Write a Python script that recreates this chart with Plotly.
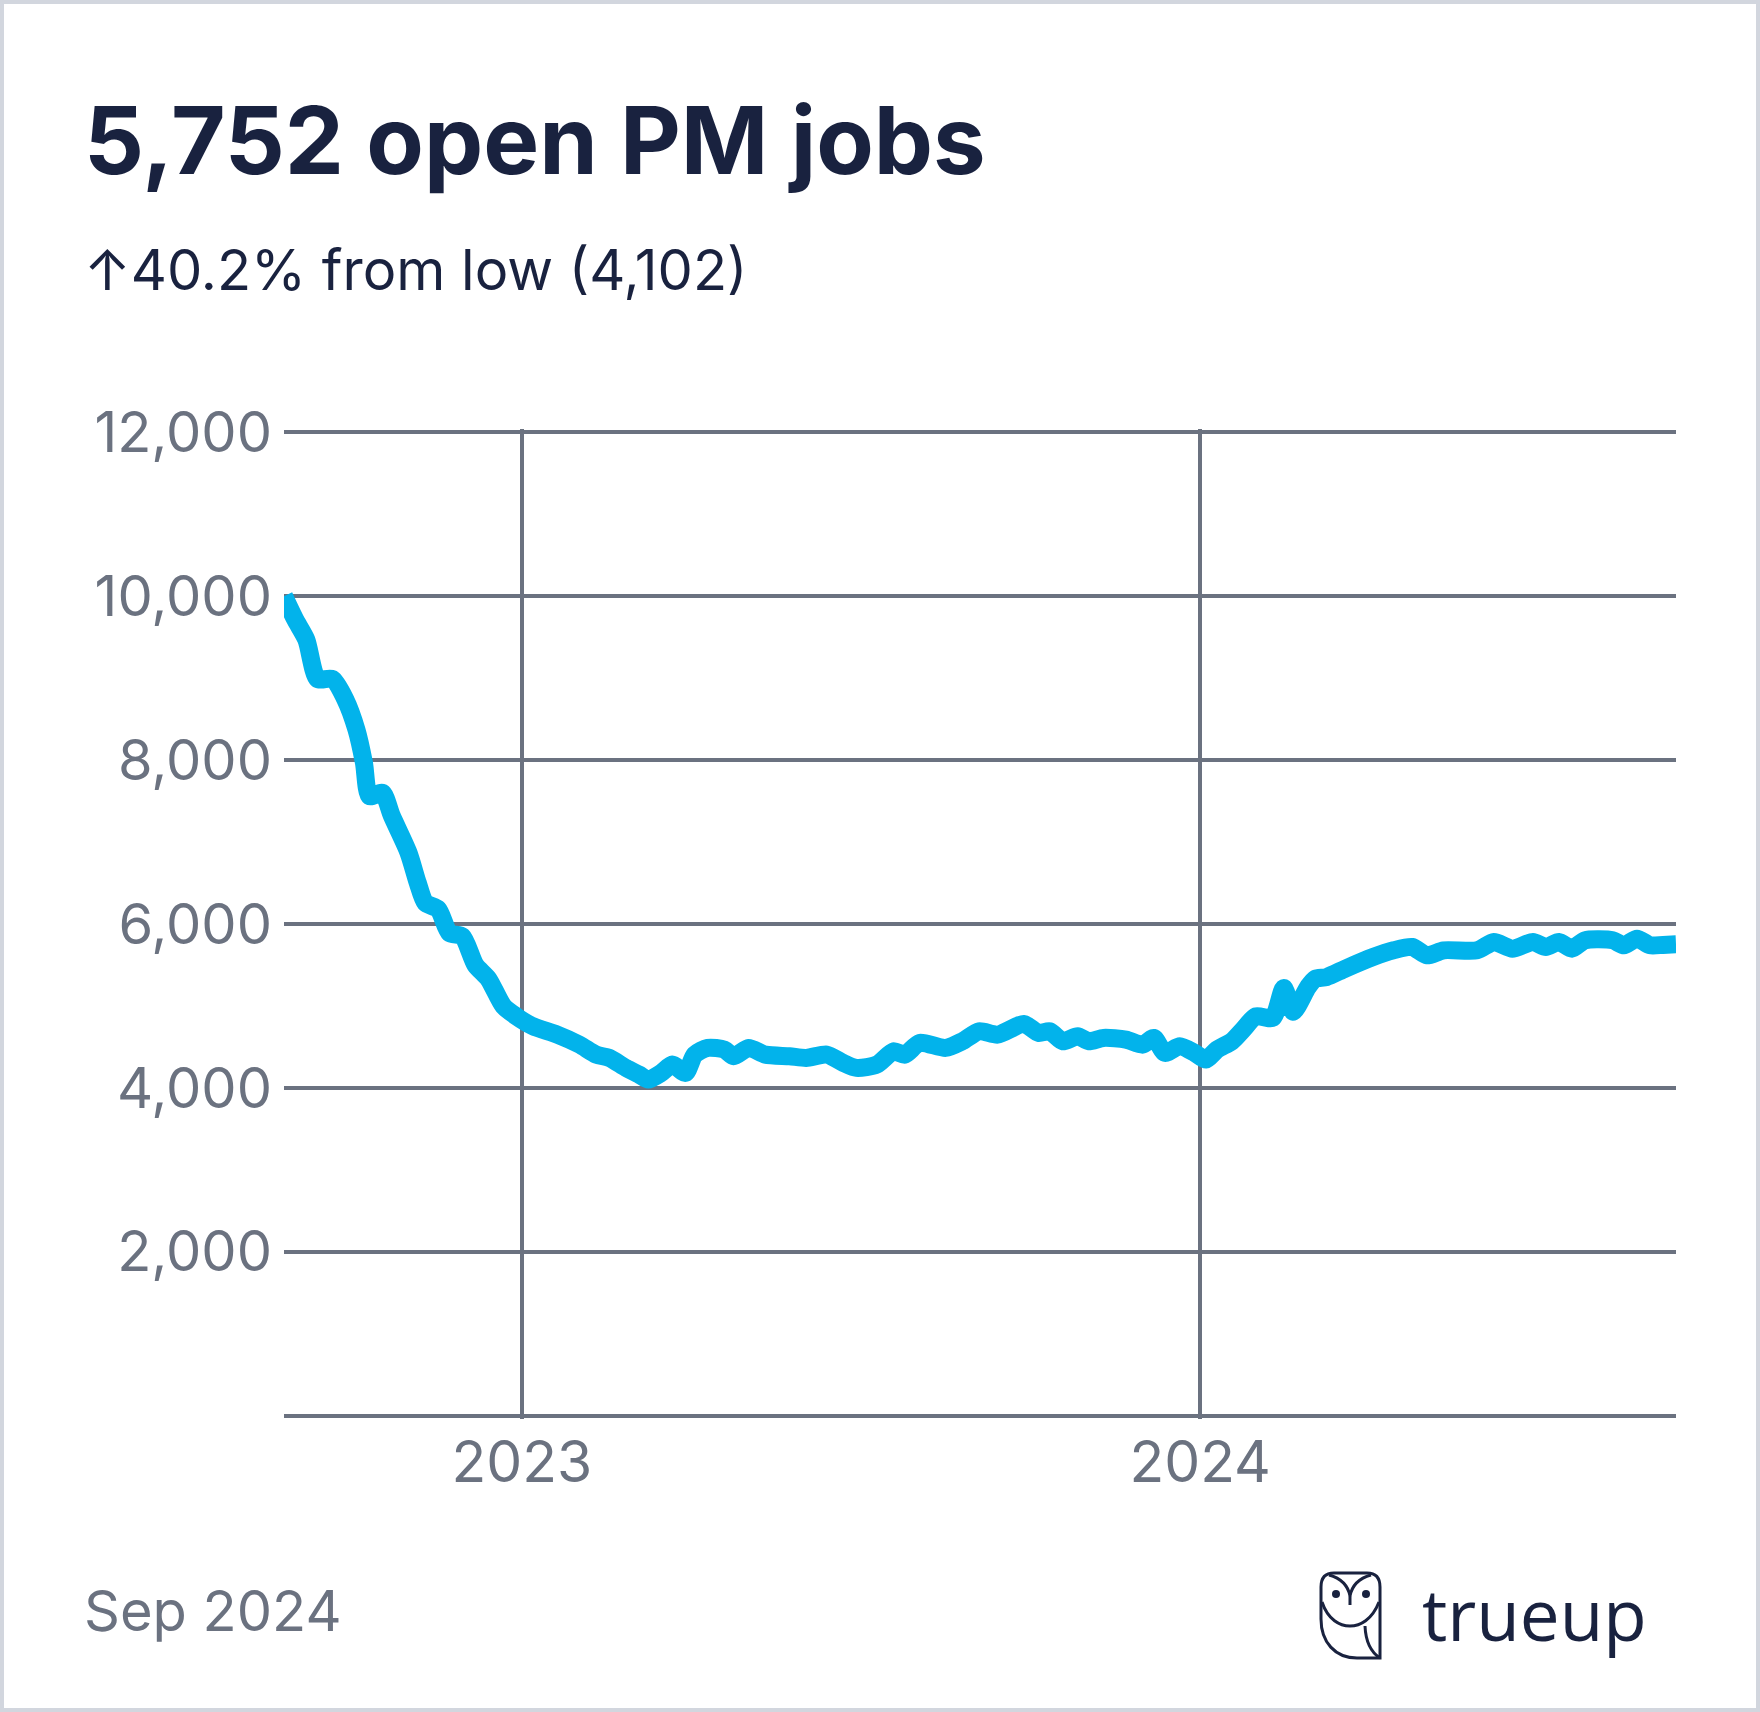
import plotly.graph_objects as go

# ---------------- data ----------------
dates = [
    "2022-08-26", "2022-09-01", "2022-09-07", "2022-09-13", "2022-09-21", "2022-09-28",
    "2022-10-04", "2022-10-08", "2022-10-11", "2022-10-18", "2022-10-23", "2022-11-01",
    "2022-11-06", "2022-11-10", "2022-11-17", "2022-11-23", "2022-11-30", "2022-12-07",
    "2022-12-14", "2022-12-22", "2022-12-29", "2023-01-07", "2023-01-20", "2023-02-01",
    "2023-02-10", "2023-02-17", "2023-02-26", "2023-03-05", "2023-03-10", "2023-03-17",
    "2023-03-23", "2023-03-30", "2023-04-04", "2023-04-11", "2023-04-20", "2023-04-25",
    "2023-05-03", "2023-05-12", "2023-05-25", "2023-06-03", "2023-06-14", "2023-06-23",
    "2023-06-30", "2023-07-11", "2023-07-20", "2023-07-26", "2023-08-03", "2023-08-17",
    "2023-08-26", "2023-09-04", "2023-09-14", "2023-09-28", "2023-10-06", "2023-10-12",
    "2023-10-19", "2023-10-27", "2023-11-02", "2023-11-10", "2023-11-22", "2023-12-01",
    "2023-12-07", "2023-12-13", "2023-12-21", "2023-12-29", "2024-01-04", "2024-01-10",
    "2024-01-18", "2024-01-24", "2024-01-31", "2024-02-09", "2024-02-15", "2024-02-20",
    "2024-02-28", "2024-03-03", "2024-03-09", "2024-03-19", "2024-04-03", "2024-04-14",
    "2024-04-24", "2024-05-02", "2024-05-11", "2024-05-29", "2024-06-07", "2024-06-17",
    "2024-06-28", "2024-07-05", "2024-07-12", "2024-07-19", "2024-07-26", "2024-08-10",
    "2024-08-16", "2024-08-23", "2024-08-30", "2024-09-06", "2024-09-13",
]
open_jobs = [
    10000, 9716, 9470, 8990, 8990, 8740,
    8370, 7970, 7560, 7600, 7320, 6870,
    6500, 6260, 6180, 5890, 5850, 5500,
    5330, 5000, 4874, 4752, 4650, 4528,
    4406, 4366, 4244, 4163, 4102, 4183,
    4285, 4183, 4406, 4488, 4467, 4386,
    4488, 4406, 4386, 4366, 4406, 4304,
    4244, 4285, 4447, 4406, 4549, 4488,
    4569, 4691, 4650, 4780, 4671, 4691,
    4569, 4630, 4569, 4610, 4589, 4528,
    4610, 4427, 4508, 4427, 4346, 4467,
    4569, 4711, 4874, 4854, 5219, 4930,
    5231, 5333, 5353, 5455, 5597, 5679,
    5720, 5618, 5679, 5679, 5780, 5699,
    5780, 5720, 5780, 5699, 5801, 5801,
    5740, 5821, 5740, 5745, 5752,
]
y_tick_values = [0, 2000, 4000, 6000, 8000, 10000, 12000]
y_tick_labels = ["", "2,000", "4,000", "6,000", "8,000", "10,000", "12,000"]
x_tick_values = ["2023-01-01", "2024-01-01"]
x_tick_labels = ["2023", "2024"]

title_text = "5,752 open PM jobs"
subtitle_text = "↑40.2% from low (4,102)"
date_text = "Sep 2024"
brand_text = "trueup"

# ---------------- layout constants ----------------
W, H = 1760, 1712
L, R, T, B = 284, 84, 429, 293
PW, PH = W - L - R, H - T - B

NAVY = "#19223f"
GRAY = "#6b7280"
BLUE = "#02b3eb"
BORDER = "#d2d6de"


def px_x(x):
    return (x - L) / PW


def px_y(y):
    return (H - B - y) / PH


fig = go.Figure()
fig.add_trace(go.Scatter(
    x=dates, y=open_jobs, mode="lines",
    line=dict(color=BLUE, width=18, shape="spline", smoothing=0.7),
    hoverinfo="skip", showlegend=False,
))

annotations = [
    dict(text=title_text, x=px_x(82), y=px_y(140), xanchor="left", yanchor="middle",
         font=dict(family="Inter", size=94, color=NAVY, weight=700)),
    dict(text=subtitle_text, x=px_x(82), y=px_y(270), xanchor="left", yanchor="middle",
         font=dict(family="Inter", size=56, color=NAVY)),
    dict(text=date_text, x=px_x(82), y=px_y(1611), xanchor="left", yanchor="middle",
         font=dict(family="Inter", size=56, color=GRAY)),
    dict(text=brand_text, x=px_x(1420), y=px_y(1613), xanchor="left", yanchor="middle",
         font=dict(family="Open Sans", size=71, color=NAVY)),
]
for a in annotations:
    a.update(xref="paper", yref="paper", showarrow=False)

# owl logo, drawn in pixel coordinates relative to its top-left corner
OX, OY = 1320, 1572


def owl_path(cmds):
    out = []
    for c in cmds:
        if isinstance(c, str):
            out.append(c)
        else:
            out.append(f"{px_x(OX + c[0]):.5f},{px_y(OY + c[1]):.5f}")
    return " ".join(out)


owl_body = owl_path(["M", (14, 1), "L", (47, 1), "Q", (60, 1), (60, 15), "L", (60, 86),
                     "L", (37, 86), "C", (15, 86), (1, 70), (1, 47), "L", (1, 15),
                     "Q", (1, 1), (14, 1), "Z"])
owl_face = owl_path(["M", (2, 30), "C", (8, 48), (20, 54), (30, 54),
                     "C", (40, 54), (52, 48), (59, 30)])
owl_brow = owl_path(["M", (9, 3), "Q", (27, 8), (30, 24), "Q", (33, 8), (51, 3)])
owl_beak = owl_path(["M", (30, 24), "L", (30, 33)])
owl_wing = owl_path(["M", (45, 54), "Q", (46, 77), (60, 86)])

shapes = []
for p in (owl_body, owl_face, owl_brow, owl_beak, owl_wing):
    shapes.append(dict(type="path", path=p, xref="paper", yref="paper",
                       line=dict(color=NAVY, width=3), fillcolor="rgba(0,0,0,0)",
                       layer="above"))
for ex in (16, 46):
    shapes.append(dict(type="circle", xref="paper", yref="paper",
                       x0=px_x(OX + ex - 4), x1=px_x(OX + ex + 4),
                       y0=px_y(OY + 22 - 4), y1=px_y(OY + 22 + 4),
                       fillcolor=NAVY, line=dict(width=0), layer="above"))
# card border
shapes.append(dict(type="rect", xref="paper", yref="paper",
                   x0=px_x(0), x1=px_x(W), y0=px_y(H), y1=px_y(0),
                   line=dict(color=BORDER, width=8), fillcolor="rgba(0,0,0,0)",
                   layer="above"))

fig.update_layout(
    width=W, height=H,
    margin=dict(l=L, r=R, t=T, b=B, pad=0),
    paper_bgcolor="white", plot_bgcolor="white",
    annotations=annotations, shapes=shapes,
    showlegend=False,
)
fig.update_xaxes(
    type="date", range=["2022-08-26", "2024-09-13"],
    tickmode="array", tickvals=x_tick_values, ticktext=x_tick_labels,
    showgrid=True, gridcolor=GRAY, gridwidth=3.5,
    zeroline=False, showline=False, ticks="",
    tickfont=dict(family="Inter", size=57, color=GRAY),
    ticklabelstandoff=5,
)
fig.update_yaxes(
    range=[-40, 12040],
    tickmode="array", tickvals=y_tick_values, ticktext=y_tick_labels,
    showgrid=True, gridcolor=GRAY, gridwidth=3.5,
    zeroline=False, showline=False, ticks="",
    tickfont=dict(family="Inter", size=56, color=GRAY),
    ticklabelstandoff=11,
)

fig.write_html("out.html")
